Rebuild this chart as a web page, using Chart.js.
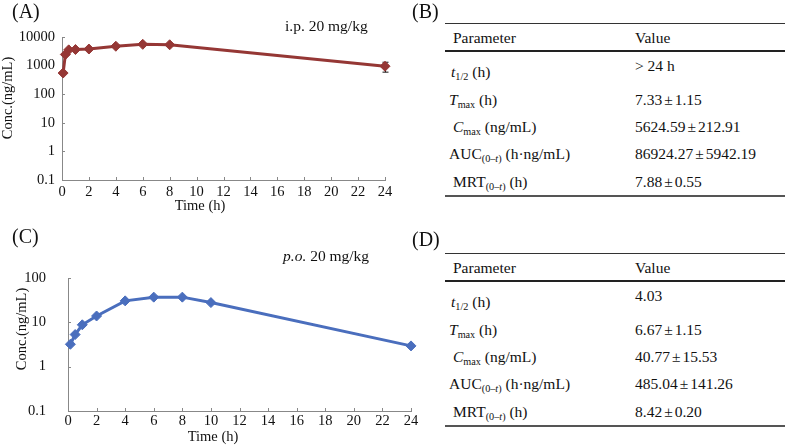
<!DOCTYPE html>
<html>
<head>
<meta charset="utf-8">
<script src="https://cdn.jsdelivr.net/npm/chart.js@4.4.0/dist/chart.umd.min.js"></script>
<style>
body { margin: 0; background: #fff; font-family: "Liberation Serif", "Times New Roman", serif; color: #111; }
#wrap { position: relative; width: 787px; height: 445px; overflow: hidden; }
canvas { position: absolute; }
.t { position: absolute; white-space: nowrap; line-height: 1; transform: translateY(-50%); font-size: 15.5px; }
.lab { font-size: 20px; }
.rule { position: absolute; left: 445px; width: 340px; background: #333; }
sub { font-size: 66%; vertical-align: -0.3em; line-height: 0; }
.pm { margin: 0 2px; }
</style>
</head>
<body>
<div id="wrap">
  <canvas id="chartA" width="400" height="220" style="left:0;top:0"></canvas>
  <canvas id="chartC" width="430" height="225" style="left:0;top:220px"></canvas>
</div>
<script>
// (A) i.p. 20 mg/kg
var timesA = [0.083, 0.25, 0.5, 1, 2, 4, 6, 8, 24];
var concA = [550, 2450, 3550, 3650, 3800, 4750, 5550, 5350, 950];
var sdA = [null, null, null, null, null, null, null, null, 360];

// (C) p.o. 20 mg/kg
var timesC = [0.167, 0.5, 1, 2, 4, 6, 8, 10, 24];
var concC = [3.2, 5.3, 8.8, 13.9, 30.5, 37, 37, 27.9, 2.94];

var xTicks = [0, 2, 4, 6, 8, 10, 12, 14, 16, 18, 20, 22, 24];
var yTicksA = [0.1, 1, 10, 100, 1000, 10000];
var yTicksC = [0.1, 1, 10, 100];

// parameter tables (B) and (D)
var paramNames = [
  '<i>t</i><sub>1/2</sub> (h)',
  '<i>T</i><sub>max</sub> (h)',
  '<i>C</i><sub>max</sub> (ng/mL)',
  'AUC<sub>(0–<i>t</i>)</sub> (h·ng/mL)',
  'MRT<sub>(0–<i>t</i>)</sub> (h)'
];
var valuesB = ['&gt; 24 h', '7.33±1.15', '5624.59±212.91', '86924.27±5942.19', '7.88±0.55'];
var valuesD = ['4.03', '6.67±1.15', '40.77±15.53', '485.04±141.26', '8.42±0.20'];

var wrap = document.getElementById('wrap');

function addText(html, x, y, cls) {
  var d = document.createElement('div');
  d.className = 't' + (cls ? ' ' + cls : '');
  d.style.left = x + 'px';
  d.style.top = y + 'px';
  d.innerHTML = html;
  wrap.appendChild(d);
}

function addRule(y, h, color) {
  var d = document.createElement('div');
  d.className = 'rule';
  d.style.top = y + 'px';
  d.style.height = h + 'px';
  if (color) d.style.background = color;
  wrap.appendChild(d);
}

function buildTable(top, values) {
  var rowY = [71.7, 100, 127.3, 154.3, 181.7];
  var valY = [66, 100, 127.3, 154.3, 181.7];
  var nameX = [451, 449, 453, 449, 453];
  addRule(top + 22.5, 1.5);
  addText('Parameter', 453, top + 38);
  addText('Value', 635, top + 38);
  addRule(top + 49.5, 2, '#222');
  for (var i = 0; i < paramNames.length; i++) {
    addText(paramNames[i], nameX[i], top + rowY[i]);
    addText(values[i].replace('±', '<span class="pm">±</span>'), 635, top + valY[i]);
  }
  addRule(top + 195, 2, '#555');
}

buildTable(0, valuesB);
buildTable(230, valuesD);

addText('(A)', 12, 11, 'lab');
addText('(B)', 412, 11, 'lab');
addText('(C)', 12, 236, 'lab');
addText('(D)', 412, 239, 'lab');
addText('i.p. 20 mg/kg', 285, 26);
addText('<i>p.o.</i> 20 mg/kg', 283, 256);

const decor = {
  id: 'decor',
  beforeDatasetsDraw(chart, args, opts) {
    const ctx = chart.ctx;
    const a = chart.chartArea;
    const x = chart.scales.x;
    const y = chart.scales.y;
    ctx.save();
    ctx.strokeStyle = '#888';
    ctx.lineWidth = 1;
    xTicks.forEach(function (v) {
      const px = Math.round(x.getPixelForValue(v)) + 0.5;
      ctx.beginPath();
      ctx.moveTo(px, a.bottom);
      ctx.lineTo(px, a.bottom - 3);
      ctx.stroke();
    });
    opts.yTicks.forEach(function (v) {
      const py = Math.round(y.getPixelForValue(v)) + 0.5;
      ctx.beginPath();
      ctx.moveTo(a.left, py);
      ctx.lineTo(a.left + 3, py);
      ctx.stroke();
    });
    // error bars
    if (opts.sd) {
      ctx.strokeStyle = '#111';
      opts.sd.forEach(function (s, i) {
        if (s == null) return;
        const px = Math.round(x.getPixelForValue(opts.times[i])) + 0.5;
        const hi = y.getPixelForValue(opts.conc[i] + s);
        const lo = y.getPixelForValue(opts.conc[i] - s);
        ctx.beginPath();
        ctx.moveTo(px, hi); ctx.lineTo(px, lo);
        ctx.moveTo(px - 3, hi); ctx.lineTo(px + 3, hi);
        ctx.moveTo(px - 3, lo); ctx.lineTo(px + 3, lo);
        ctx.stroke();
      });
    }
    // axis titles
    ctx.fillStyle = '#111';
    ctx.font = '14.5px "Liberation Serif"';
    ctx.textAlign = 'center';
    ctx.textBaseline = 'middle';
    ctx.fillText('Time (h)', opts.xTitle[0], opts.xTitle[1]);
    ctx.translate(opts.yTitle[0], opts.yTitle[1]);
    ctx.rotate(-Math.PI / 2);
    ctx.fillText('Conc.(ng/mL)', 0, 0);
    ctx.restore();
  }
};

function makeChart(id, times, conc, color, yMax, yTicks, pad, yWidth, xHeight, yPad, xPad, extra) {
  const tickFont = { family: 'Liberation Serif', size: 14.5 };
  return new Chart(document.getElementById(id), {
    type: 'line',
    data: {
      datasets: [{
        data: times.map(function (t, i) { return { x: t, y: conc[i] }; }),
        borderColor: color,
        backgroundColor: color,
        borderWidth: 3,
        pointStyle: 'rectRot',
        pointRadius: 5,
        pointBorderWidth: 1,
        tension: 0,
        clip: false
      }]
    },
    options: {
      responsive: false,
      animation: false,
      layout: { padding: pad },
      plugins: { legend: { display: false }, tooltip: { enabled: false }, decor: extra },
      scales: {
        x: {
          type: 'linear', min: 0, max: 24,
          grid: { display: false, drawTicks: false },
          border: { color: '#888', width: 1 },
          afterBuildTicks: function (s) { s.ticks = xTicks.map(function (v) { return { value: v }; }); },
          afterFit: function (s) { s.height = xHeight; },
          ticks: { font: tickFont, color: '#111', padding: xPad, maxRotation: 0 }
        },
        y: {
          type: 'logarithmic', min: 0.1, max: yMax,
          grid: { display: false, drawTicks: false },
          border: { color: '#888', width: 1 },
          afterBuildTicks: function (s) { s.ticks = yTicks.map(function (v) { return { value: v }; }); },
          afterFit: function (s) { s.width = yWidth; },
          ticks: { font: tickFont, color: '#111', padding: yPad, callback: function (v) { return String(v); } }
        }
      }
    },
    plugins: [decor]
  });
}

makeChart('chartA', timesA, concA, '#953735', 10000, yTicksA,
  { left: 0, top: 37, right: 15, bottom: 0 }, 62, 40, 7, 3,
  { yTicks: yTicksA, sd: sdA, times: timesA, conc: concA, xTitle: [200, 206], yTitle: [8, 98] });

makeChart('chartC', timesC, concC, '#4a6ebd', 100, yTicksC,
  { left: 0, top: 58, right: 19, bottom: 0 }, 68, 34, 22, 1,
  { yTicks: yTicksC, xTitle: [213, 217], yTitle: [22, 109] });
</script>
</body>
</html>
